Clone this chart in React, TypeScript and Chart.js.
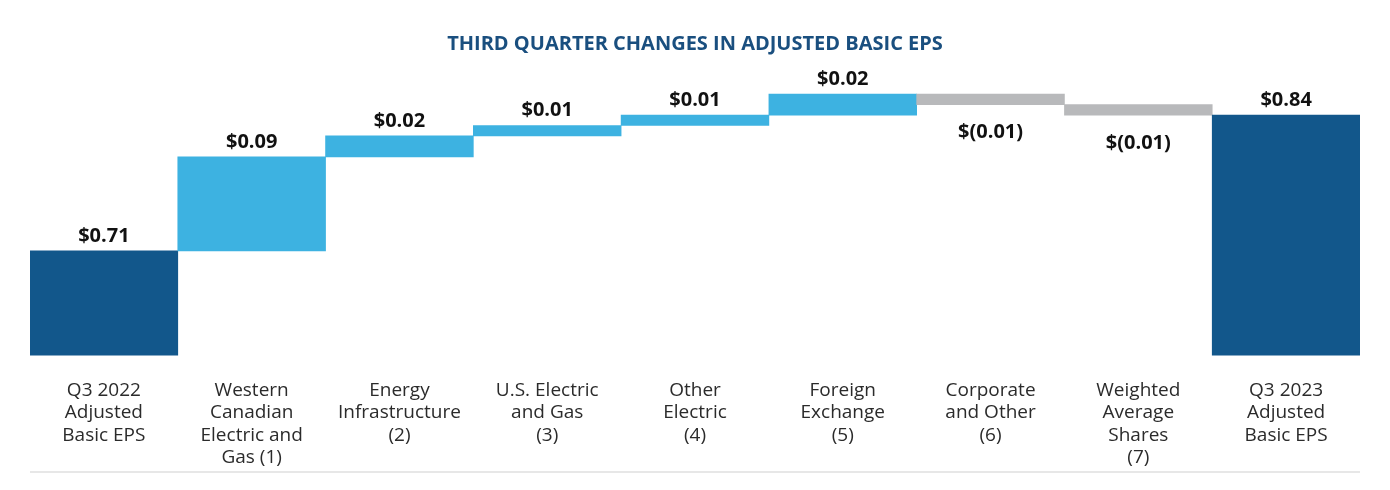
import React, { useEffect, useRef } from 'react';
import { Chart, registerables } from 'chart.js';

Chart.register(...registerables);

const categories: string[][] = [
  ['Q3 2022', 'Adjusted', 'Basic EPS'],
  ['Western', 'Canadian', 'Electric and', 'Gas (1)'],
  ['Energy', 'Infrastructure', '(2)'],
  ['U.S. Electric', 'and Gas', '(3)'],
  ['Other', 'Electric', '(4)'],
  ['Foreign', 'Exchange', '(5)'],
  ['Corporate', 'and Other', '(6)'],
  ['Weighted', 'Average', 'Shares', '(7)'],
  ['Q3 2023', 'Adjusted', 'Basic EPS'],
];
const startEps = 0.71;
const changes = [0.09, 0.02, 0.01, 0.01, 0.02, -0.01, -0.01];
const endEps = 0.84;
const yMin = 0.61;
const yMax = 0.885;

const titleText = 'THIRD QUARTER CHANGES IN ADJUSTED BASIC EPS';
const FONT = '"Open Sans", "Noto Sans", sans-serif';
const COLORS = { total: '#12578b', up: '#3db2e1', down: '#b8b9bb' };

const fmt = (v: number) => (v < 0 ? `$(${Math.abs(v).toFixed(2)})` : `$${v.toFixed(2)}`);

const ranges: [number, number][] = [];
const kinds: ('total' | 'up' | 'down')[] = [];
const valueLabels: string[] = [];
ranges.push([0, startEps]);
kinds.push('total');
valueLabels.push(fmt(startEps));
let run = startEps;
changes.forEach((c) => {
  const next = Math.round((run + c) * 100) / 100;
  ranges.push([run, next]);
  kinds.push(c >= 0 ? 'up' : 'down');
  valueLabels.push(fmt(c));
  run = next;
});
ranges.push([0, endEps]);
kinds.push('total');
valueLabels.push(fmt(endEps));

const labelPlugin = {
  id: 'valueLabels',
  afterDatasetsDraw(chart: any) {
    const ctx = chart.ctx;
    const meta = chart.getDatasetMeta(0);
    ctx.save();
    ctx.font = `bold 20px ${FONT}`;
    ctx.fillStyle = '#111111';
    ctx.textAlign = 'center';
    ctx.textBaseline = 'middle';
    meta.data.forEach((el: any, i: number) => {
      const p = el.getProps(['x', 'y', 'base'], true);
      const top = Math.min(p.y, p.base);
      const bottom = Math.max(p.y, p.base);
      if (kinds[i] === 'down') ctx.fillText(valueLabels[i], p.x, bottom + 28);
      else ctx.fillText(valueLabels[i], p.x, top - 15);
    });
    ctx.restore();
  },
  afterDraw(chart: any) {
    const ctx = chart.ctx;
    const a = chart.chartArea;
    ctx.save();
    ctx.strokeStyle = '#e7e7e7';
    ctx.lineWidth = 2;
    ctx.beginPath();
    ctx.moveTo(a.left, chart.height - 10);
    ctx.lineTo(a.right, chart.height - 10);
    ctx.stroke();
    ctx.restore();
  },
};

export default function App() {
  const ref = useRef<HTMLCanvasElement | null>(null);
  useEffect(() => {
    if (!ref.current) return;
    const chart = new Chart(ref.current, {
      type: 'bar',
      data: {
        labels: categories,
        datasets: [
          {
            data: ranges as any,
            backgroundColor: kinds.map((k) => COLORS[k]),
            borderWidth: 0,
            barPercentage: 1,
            categoryPercentage: 1,
          },
        ],
      },
      options: {
        animation: false,
        responsive: true,
        maintainAspectRatio: false,
        layout: { padding: { left: 22, right: 22, top: 0, bottom: 0 } },
        plugins: {
          legend: { display: false },
          tooltip: { enabled: false },
          title: {
            display: true,
            text: titleText,
            color: '#1a4f7f',
            font: { family: FONT, size: 20, weight: 'bold' },
            padding: { top: 24, bottom: 12 },
          },
        },
        scales: {
          x: {
            grid: { display: false, drawTicks: false },
            border: { display: false },
            ticks: {
              color: '#2b2b2b',
              font: { family: FONT, size: 19, lineHeight: '22.3px' },
              padding: 24,
              maxRotation: 0,
              autoSkip: false,
            },
            afterFit: (scale: any) => {
              scale.height = 126.5;
            },
          },
          y: {
            display: false,
            min: yMin,
            max: yMax,
          },
        },
      },
      plugins: [labelPlugin],
    });
    return () => chart.destroy();
  }, []);
  return (
    <div style={{ width: 1374, height: 474, position: 'relative' }}>
      <canvas ref={ref} />
    </div>
  );
}
